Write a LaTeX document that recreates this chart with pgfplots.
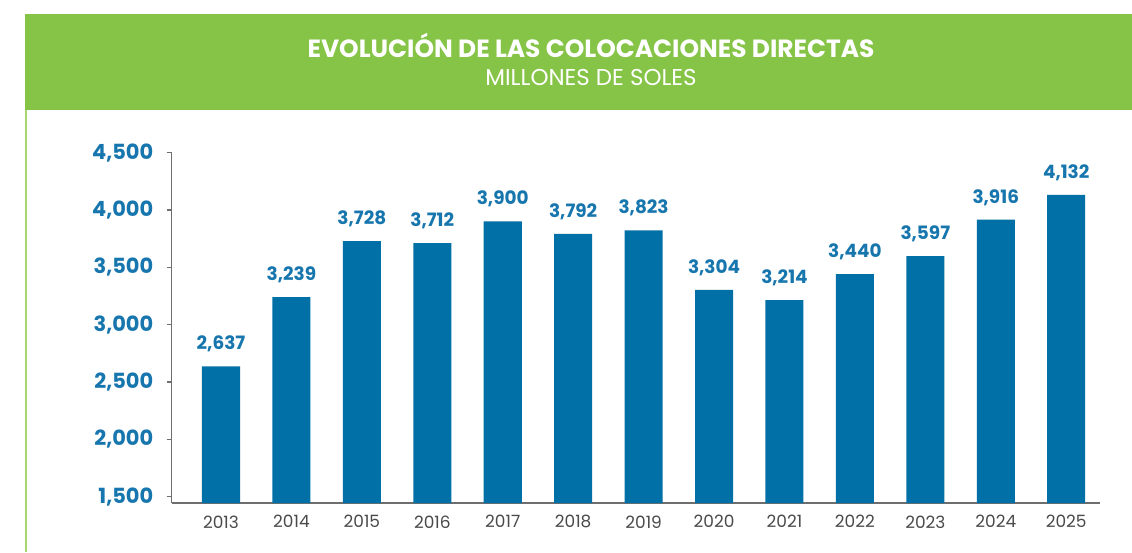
\documentclass[border=0pt]{standalone}
\usepackage{pgfplots}
\pgfplotsset{compat=1.18}
\usepackage{fontspec}
\setmainfont{Poppins}
\definecolor{hdrgreen}{HTML}{85C446}
\definecolor{linegreen}{HTML}{A6D86E}
\definecolor{barblue}{HTML}{0070A6}
\definecolor{lblblue}{HTML}{1776AD}
\definecolor{axgray}{HTML}{6E6E6E}
\definecolor{yeargray}{HTML}{4A4A4A}
\begin{document}
\begin{tikzpicture}[x=1bp,y=1bp]
\fill[white] (0,0) rectangle (1132,-552);
\fill[hdrgreen] (25,-14) rectangle (1132,-110);
\draw[linegreen, line width=2bp] (26,-110) -- (26,-552);
\node[white, font=\bfseries\fontsize{25}{28}\selectfont] at (591,-45) {EVOLUCIÓN DE LAS COLOCACIONES DIRECTAS};
\node[white, font=\fontsize{23}{26}\selectfont] at (591,-77) {MILLONES DE SOLES};
\begin{axis}[
  at={(171.7bp,-503bp)}, anchor=south west,
  scale only axis, width=928.3bp, height=350.3bp,
  xmin=-0.70, xmax=12.48, ymin=1444, ymax=4500,
  ybar, bar width=0.54,
  axis x line*=bottom, axis y line*=left,
  axis line style={axgray, line width=1.3bp, -},
  xtick={0,...,12},
  xticklabels={2013,2014,2015,2016,2017,2018,2019,2020,2021,2022,2023,2024,2025},
  ytick={1500,2000,2500,3000,3500,4000,4500},
  x tick style={draw=none},
  y tick style={axgray, line width=1.3bp},
  tick align=outside, major tick length=5bp,
  /pgf/number format/.cd, 1000 sep={,}, assume math mode=true,
  /pgfplots/.cd,
  yticklabel style={font=\bfseries\fontsize{21}{22}\selectfont, text=lblblue, xshift=-10bp},
  xticklabel style={font=\fontsize{17}{19}\selectfont, text=yeargray, yshift=-4bp},
  nodes near coords,
  every node near coord/.append style={font=\bfseries\fontsize{18.5}{20}\selectfont, text=lblblue, inner sep=0pt, anchor=south, yshift=14bp},
  clip=false,
]
\addplot[fill=barblue, draw=none] coordinates {
(0,2637) (1,3239) (2,3728) (3,3712) (4,3900) (5,3792) (6,3823)
(7,3304) (8,3214) (9,3440) (10,3597) (11,3916) (12,4132)};
\end{axis}
\end{tikzpicture}
\end{document}
